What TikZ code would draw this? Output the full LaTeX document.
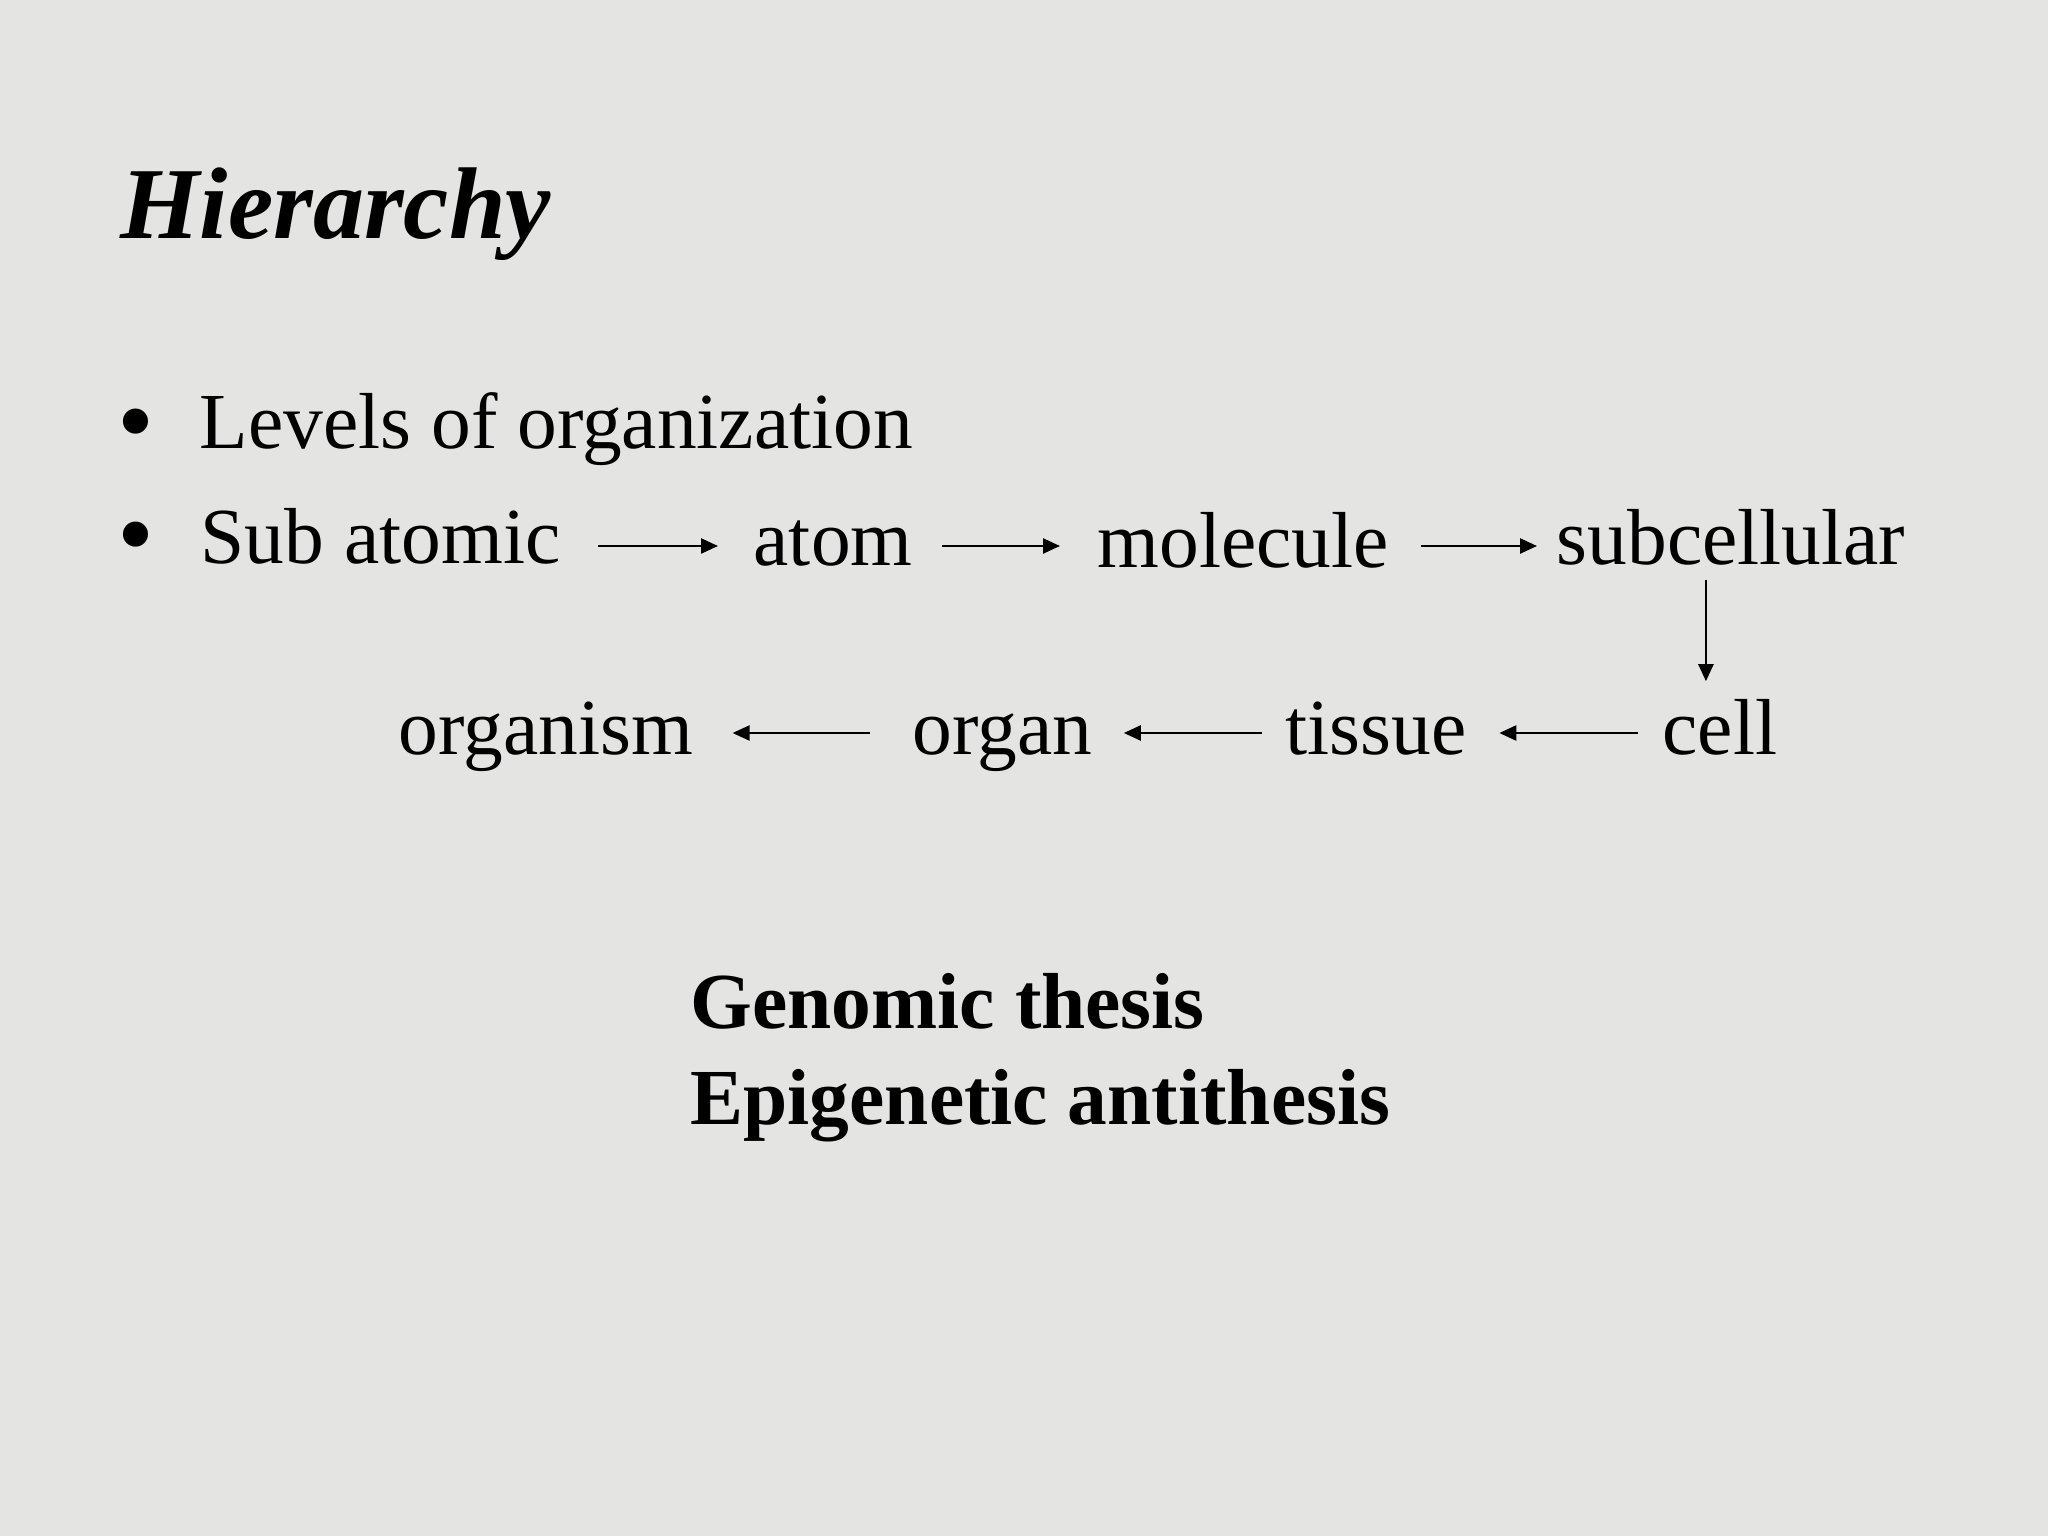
\documentclass[tikz,border=0pt]{standalone}
\usepackage{fontspec}
\setmainfont{Liberation Serif}
\usetikzlibrary{arrows.meta}
\definecolor{bgcol}{RGB}{228,228,227}
\tikzset{
  txt/.style={anchor=base west, inner sep=0pt, font=\fontsize{22.6pt}{27pt}\selectfont},
  boldtxt/.style={txt, font=\fontsize{22.6pt}{27pt}\selectfont\bfseries},
  bul/.style={anchor=center, inner sep=0pt, font=\fontsize{30pt}{32pt}\selectfont},
  arr/.style={line width=0.7pt, -{Triangle[length=0.17cm,width=0.15cm]}}
}
\begin{document}
\begin{tikzpicture}
\fill[bgcol] (0,0) rectangle (20.48,-15.36);
\useasboundingbox (0,0) rectangle (20.48,-15.36);

\node[anchor=base west, inner sep=0pt, font=\fontsize{29pt}{34pt}\selectfont\bfseries\itshape] (title) at (1.20,-2.39) {Hierarchy};

\node[bul] (b1) at (1.36,-4.33) {•};
\node[txt] (levels) at (1.99,-4.49) {Levels of organization};
\node[bul] (b2) at (1.36,-5.46) {•};
\node[txt] (sub) at (2.00,-5.64) {Sub atomic};
\node[txt] (atom) at (7.53,-5.66) {atom};
\node[txt] (mol) at (10.97,-5.68) {molecule};
\node[txt] (subc) at (15.56,-5.65) {subcellular};

\node[txt] (organism) at (3.98,-7.55) {organism};
\node[txt] (organ) at (9.12,-7.55) {organ};
\node[txt] (tissue) at (12.85,-7.55) {tissue};
\node[txt] (cell) at (16.62,-7.55) {cell};

\node[boldtxt] (gen) at (6.90,-10.29) {Genomic thesis};
\node[boldtxt] (epi) at (6.90,-11.24) {Epigenetic antithesis};

\coordinate (r1) at (0,-5.46);
\coordinate (r2) at (0,-7.33);

\draw[arr] ([xshift=0.37cm]sub.east |- r1) -- ([xshift=-0.35cm]atom.west |- r1);
\draw[arr] ([xshift=0.29cm]atom.east |- r1) -- ([xshift=-0.37cm]mol.west |- r1);
\draw[arr] ([xshift=0.31cm]mol.east |- r1) -- ([xshift=-0.19cm]subc.west |- r1);

\coordinate (vs) at ([xshift=-0.25cm,yshift=-0.15cm]subc.base);
\coordinate (ve) at ([yshift=0.18cm]cell.north);
\draw[arr] (vs) -- (vs |- ve);

\draw[arr] ([xshift=-0.24cm]cell.west |- r2) -- ([xshift=0.32cm]tissue.east |- r2);
\draw[arr] ([xshift=-0.23cm]tissue.west |- r2) -- ([xshift=0.31cm]organ.east |- r2);
\draw[arr] ([xshift=-0.42cm]organ.west |- r2) -- ([xshift=0.39cm]organism.east |- r2);
\end{tikzpicture}
\end{document}
